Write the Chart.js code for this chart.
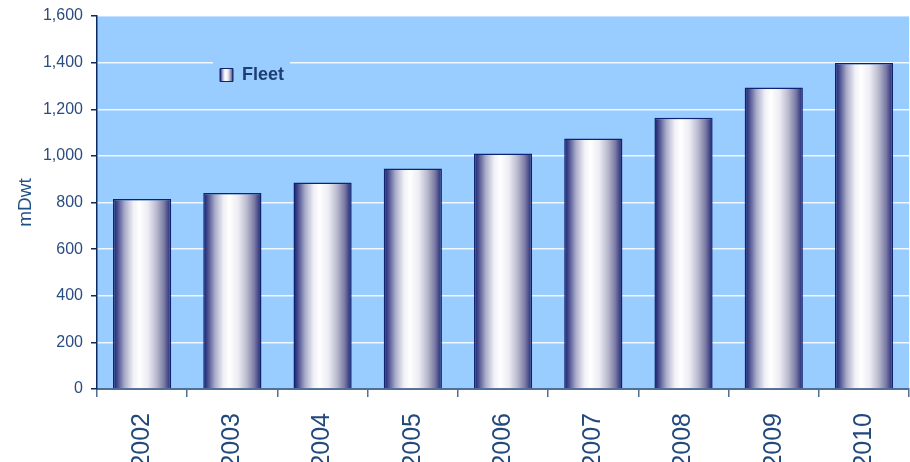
<!DOCTYPE html>
<html>
<head>
<meta charset="utf-8">
<script src="https://cdn.jsdelivr.net/npm/chart.js@4.4.1/dist/chart.umd.min.js"></script>
<style>
  html, body { margin: 0; padding: 0; background: #fff; }
</style>
</head>
<body>
<canvas id="fleetChart" width="910" height="462"></canvas>
<script>
// fleet size in million dwt, one bar per year
const years = ['2002', '2003', '2004', '2005', '2006', '2007', '2008', '2009', '2010'];
const fleet = [815, 841, 886, 946, 1010, 1074, 1164, 1293, 1398];
const yTicks = [0, 200, 400, 600, 800, 1000, 1200, 1400, 1600];

const FONT = "'Liberation Sans', Arial, sans-serif";
const BAR_FRACTION = 0.645;
const LEGEND_X = 212, LEGEND_Y = 58;

// horizontal shading that makes each bar look like a cylinder
function cylinder(c2d, left, right) {
  const g = c2d.createLinearGradient(left, 0, right, 0);
  g.addColorStop(0, '#141a6c');
  g.addColorStop(0.08, '#4a4f8f');
  g.addColorStop(0.2, '#a9abc9');
  g.addColorStop(0.35, '#f0f0f6');
  g.addColorStop(0.45, '#ffffff');
  g.addColorStop(0.6, '#ececf3');
  g.addColorStop(0.75, '#b9b9ce');
  g.addColorStop(0.88, '#7a7aa4');
  g.addColorStop(1, '#1c2171');
  return g;
}

function barFill(ctx) {
  const chart = ctx.chart;
  const xs = chart.scales.x;
  if (!xs || ctx.dataIndex === undefined) return '#c8c8dc';
  const cx = xs.getPixelForValue(ctx.dataIndex);
  const half = (xs.width / years.length) * BAR_FRACTION / 2;
  if (!isFinite(cx) || !isFinite(half)) return '#c8c8dc';
  return cylinder(chart.ctx, cx - half, cx + half);
}

const plotBackground = {
  id: 'plotBackground',
  beforeDraw(chart) {
    const { ctx, chartArea: a } = chart;
    ctx.save();
    ctx.fillStyle = '#99ccff';
    ctx.fillRect(a.left, a.top, a.right - a.left, a.bottom - a.top);
    ctx.restore();
  }
};

// legend sits inside the plot, on its own patch of background
const legendSpot = {
  id: 'legendSpot',
  afterLayout(chart) {
    chart.legend.left = LEGEND_X;
    chart.legend.top = LEGEND_Y;
  },
  beforeDatasetsDraw(chart) {
    const ctx = chart.ctx;
    ctx.save();
    ctx.fillStyle = '#99ccff';
    ctx.fillRect(LEGEND_X + 1, LEGEND_Y - 2, 77, 31);
    ctx.restore();
    chart.legend.draw();
  }
};

new Chart(document.getElementById('fleetChart'), {
  type: 'bar',
  data: {
    labels: years,
    datasets: [{
      label: 'Fleet',
      data: fleet,
      backgroundColor: barFill,
      borderColor: '#0e2470',
      borderWidth: 1.5,
      categoryPercentage: 1,
      barPercentage: BAR_FRACTION
    }]
  },
  options: {
    responsive: false,
    animation: false,
    layout: { padding: { top: 16, right: 0, bottom: 0, left: 0 } },
    plugins: {
      tooltip: { enabled: false },
      legend: {
        position: 'chartArea',
        align: 'start',
        labels: {
          boxWidth: 13,
          boxHeight: 13,
          padding: 8,
          color: '#1b3f73',
          font: { family: FONT, size: 18, weight: 'bold' },
          generateLabels(chart) {
            const left = LEGEND_X + 8;
            return [{
              text: chart.data.datasets[0].label,
              fillStyle: cylinder(chart.ctx, left, left + 13),
              strokeStyle: '#0e2470',
              lineWidth: 1,
              hidden: false,
              datasetIndex: 0,
              fontColor: '#1b3f73'
            }];
          }
        }
      }
    },
    scales: {
      x: {
        grid: {
          display: true,
          drawOnChartArea: false,
          drawTicks: true,
          tickLength: 8,
          tickColor: '#4f6f95',
          lineWidth: 1.5,
          offset: true
        },
        border: { display: true, color: '#4f6f95', width: 2 },
        ticks: {
          color: '#22497c',
          font: { family: FONT, size: 25 },
          minRotation: 90,
          maxRotation: 90,
          autoSkip: false,
          padding: 16
        },
        afterFit(scale) { scale.height = 73; }
      },
      y: {
        min: 0,
        max: 1600,
        afterBuildTicks(scale) { scale.ticks = yTicks.map(v => ({ value: v })); },
        grid: {
          color: (c) => (c.tick && c.tick.value === 0 ? 'rgba(0,0,0,0)' : 'rgba(255,255,255,0.85)'),
          lineWidth: 1.5,
          tickLength: 6,
          tickColor: '#0d2a5e'
        },
        border: { display: true, color: '#0d2a5e', width: 1.5 },
        ticks: {
          padding: 8,
          color: '#2b4c7e',
          font: { family: FONT, size: 16 },
          callback: (v) => v.toLocaleString('en-US')
        },
        title: {
          display: true,
          text: 'mDwt',
          color: '#1e4f86',
          font: { family: FONT, size: 19 },
          padding: { top: 14, bottom: 0 }
        },
        afterFit(scale) {
          scale.width = 97;
          scale.paddingTop = 0;
          scale.paddingBottom = 0;
        }
      }
    }
  },
  plugins: [plotBackground, legendSpot]
});
</script>
</body>
</html>
